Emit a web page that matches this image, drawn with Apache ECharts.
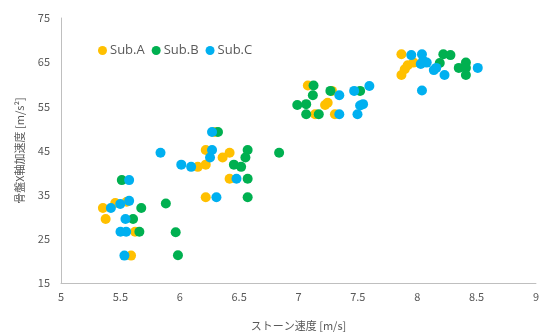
<!DOCTYPE html>
<html><head><meta charset="utf-8">
<script src="https://cdn.jsdelivr.net/npm/echarts@6/dist/echarts.min.js"></script>
<style>html,body{margin:0;padding:0;background:#fff}#c{width:542px;height:336px}</style>
</head><body><div id="c"></div>
<script>
const seriesNames = ['Sub.A', 'Sub.B', 'Sub.C'];
const colors = ['#FFC000', '#00B050', '#00B0F0'];
const xTicks = [5, 5.5, 6, 6.5, 7, 7.5, 8, 8.5, 9];
const yTicks = [15, 25, 35, 45, 55, 65, 75];

const subA = [
  [5.353, 32.0], [5.457, 33.1], [5.554, 33.4], [5.376, 29.5], [5.624, 26.6], [5.59, 21.2],
  [6.219, 45.1], [6.42, 44.5], [6.361, 43.4], [6.152, 41.3], [6.219, 41.8], [6.42, 38.6], [6.219, 34.4], [6.294, 49.2],
  [7.079, 59.7], [7.282, 58.5], [7.224, 55.3], [7.246, 55.8], [7.14, 53.2], [7.307, 53.2],
  [7.867, 66.8], [7.867, 62.1], [7.895, 63.4], [7.92, 64.3], [7.97, 64.9]
];
const subB = [
  [5.512, 38.3], [5.676, 32.0], [5.607, 29.5], [5.66, 26.6], [5.883, 33.0], [5.966, 26.5], [5.985, 21.3],
  [6.322, 49.2], [6.572, 45.1], [6.837, 44.5], [6.553, 43.4], [6.456, 41.8], [6.517, 41.3], [6.572, 38.6], [6.572, 34.4],
  [7.127, 59.7], [7.121, 57.5], [7.269, 58.5], [7.519, 58.5], [6.99, 55.3], [7.065, 55.5], [7.065, 53.2], [7.171, 53.2],
  [8.22, 66.8], [8.28, 66.6], [8.19, 64.8], [8.35, 63.7], [8.41, 64.9], [8.41, 63.7], [8.41, 62.1]
];
const subC = [
  [5.574, 38.3], [5.42, 32.0], [5.499, 32.9], [5.574, 33.6], [5.543, 29.5], [5.501, 26.6], [5.549, 26.6], [5.534, 21.2],
  [6.272, 49.2], [5.838, 44.5], [6.272, 45.1], [6.255, 43.4], [6.013, 41.8], [6.096, 41.3], [6.478, 38.6], [6.309, 34.4],
  [7.344, 57.5], [7.469, 58.5], [7.597, 59.6], [7.544, 55.5], [7.519, 55.2], [7.344, 53.2], [7.497, 53.2],
  [7.95, 66.6], [8.04, 66.8], [8.03, 64.6], [8.05, 65.3], [8.08, 64.9], [8.14, 63.2], [8.16, 63.7], [8.23, 62.1], [8.51, 63.7], [8.04, 58.6]
];
const allData = [subA, subB, subC];

const font = '"Noto Sans CJK JP", "Noto Sans", sans-serif';
const chart = echarts.init(document.getElementById('c'), null, {renderer: 'canvas'});
chart.setOption({
  animation: false,
  textStyle: {fontFamily: font},
  grid: {left: 61, right: 2, top: 18, bottom: 48},
  legend: {
    left: 93, top: 39,
    itemWidth: 9, itemHeight: 9, itemGap: 7,
    icon: 'circle',
    textStyle: {color: '#595959', fontSize: 13, fontFamily: '"Open Sans", "Noto Sans", sans-serif', padding: [0, 0, 0, -2]},
    data: seriesNames
  },
  xAxis: {
    type: 'value', min: xTicks[0], max: xTicks[xTicks.length - 1], interval: 0.5,
    name: 'ストーン速度 [m/s]', nameLocation: 'middle', nameGap: 37,
    nameTextStyle: {color: '#595959', fontSize: 11, fontFamily: font},
    axisLine: {show: true, lineStyle: {color: '#BFBFBF'}},
    axisTick: {show: false},
    splitLine: {show: false},
    axisLabel: {color: '#595959', fontSize: 11, margin: 8}
  },
  yAxis: {
    type: 'value', min: yTicks[0], max: yTicks[yTicks.length - 1], interval: 10,
    name: '骨盤X軸加速度 [m/s²]', nameLocation: 'middle', nameGap: 36,
    nameTextStyle: {color: '#595959', fontSize: 11, fontFamily: font},
    axisLine: {show: true, lineStyle: {color: '#BFBFBF'}},
    axisTick: {show: false},
    splitLine: {show: false},
    axisLabel: {color: '#595959', fontSize: 11, margin: 11}
  },
  series: seriesNames.map((n, i) => ({
    name: n, type: 'scatter', data: allData[i], symbol: 'circle', symbolSize: 10,
    itemStyle: {color: colors[i], opacity: 1}
  }))
});
</script></body></html>
